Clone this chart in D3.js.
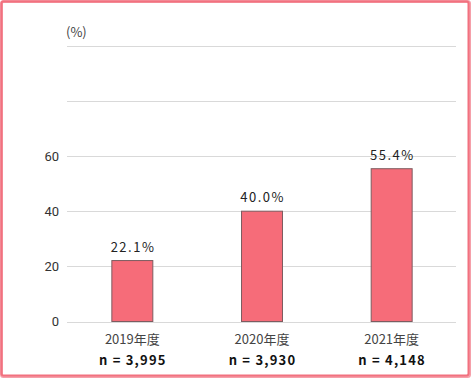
<!DOCTYPE html>
<html><head><meta charset="utf-8">
<script src="https://cdn.jsdelivr.net/npm/d3@7"></script>
<style>html,body{margin:0;padding:0;background:#fff;}svg{display:block;}</style>
</head><body>
<svg id="c" width="472" height="379"></svg>
<script>
const categories = ["2019年度", "2020年度", "2021年度"];
const sampleSizes = ["n = 3,995", "n = 3,930", "n = 4,148"];
const values = [22.1, 40.0, 55.4];
const valueLabels = ["22.1%", "40.0%", "55.4%"];
const yTicks = [0, 20, 40, 60, 80, 100];
const yTickLabels = ["0", "20", "40", "60", "", ""];
const unitLabel = "(%)";

const svg = d3.select("#c");
svg.append("rect").attr("x", 1.5).attr("y", 1.5).attr("width", 468).attr("height", 375)
  .attr("rx", 2).attr("fill", "none").attr("stroke", "#f5a0aa").attr("stroke-width", 3);
svg.append("rect").attr("x", 1.5).attr("y", 1.5).attr("width", 467).attr("height", 374)
  .attr("rx", 2).attr("fill", "none").attr("stroke", "#f2717f").attr("stroke-width", 2);

const x = d3.scaleBand().domain(categories).range([67, 456]).paddingInner(0.684).paddingOuter(0.342);
const y = d3.scaleLinear().domain([0, 100]).range([321.5, 45.7]);

const g = svg.append("g");
g.selectAll("line.grid").data(yTicks).join("line")
  .attr("x1", 67).attr("x2", 456)
  .attr("y1", d => Math.round(y(d)) + 0.5).attr("y2", d => Math.round(y(d)) + 0.5)
  .attr("stroke", "#d9d9d9").attr("stroke-width", 1);

const yAxis = d3.axisLeft(y).tickValues(yTicks).tickSize(0).tickPadding(0)
  .tickFormat((d, i) => yTickLabels[i]);
const ya = svg.append("g").attr("transform", "translate(59,0)").call(yAxis);
ya.select(".domain").remove();
ya.selectAll("text").attr("font-family", "Roboto, 'Noto Sans', sans-serif")
  .attr("font-size", 13).attr("fill", "#333");

svg.append("text").attr("x", 66).attr("y", 37).text(unitLabel)
  .attr("font-family", "'Noto Sans CJK JP', sans-serif").attr("font-size", 13).attr("fill", "#444");

g.selectAll("rect.bar").data(values).join("rect")
  .attr("x", (d, i) => x(categories[i]) + 0.5)
  .attr("width", x.bandwidth())
  .attr("y", d => y(d))
  .attr("height", d => y(0) - y(d))
  .attr("fill", "#f66c79").attr("stroke", "#7d5c60").attr("stroke-width", 1);

g.selectAll("text.val").data(values).join("text")
  .attr("x", (d, i) => x(categories[i]) + x.bandwidth() / 2 + 1.2)
  .attr("y", d => y(d) - 9)
  .attr("text-anchor", "middle")
  .attr("font-family", "'Noto Sans CJK JP', sans-serif").attr("font-size", 13)
  .attr("letter-spacing", 1.5).attr("fill", "#222")
  .text((d, i) => valueLabels[i]);

g.selectAll("text.cat").data(categories).join("text")
  .attr("x", d => x(d) + x.bandwidth() / 2 + 0.5)
  .attr("y", 344)
  .attr("text-anchor", "middle")
  .attr("font-family", "'Noto Sans CJK JP', sans-serif").attr("font-size", 13).attr("fill", "#444")
  .text(d => d);

g.selectAll("text.n").data(sampleSizes).join("text")
  .attr("x", (d, i) => x(categories[i]) + x.bandwidth() / 2 + 1)
  .attr("y", 365)
  .attr("text-anchor", "middle")
  .attr("font-family", "'Noto Sans CJK JP', sans-serif").attr("font-size", 13).attr("font-weight", 700)
  .attr("letter-spacing", 1.2).attr("fill", "#111")
  .text(d => d);
</script>
</body></html>
